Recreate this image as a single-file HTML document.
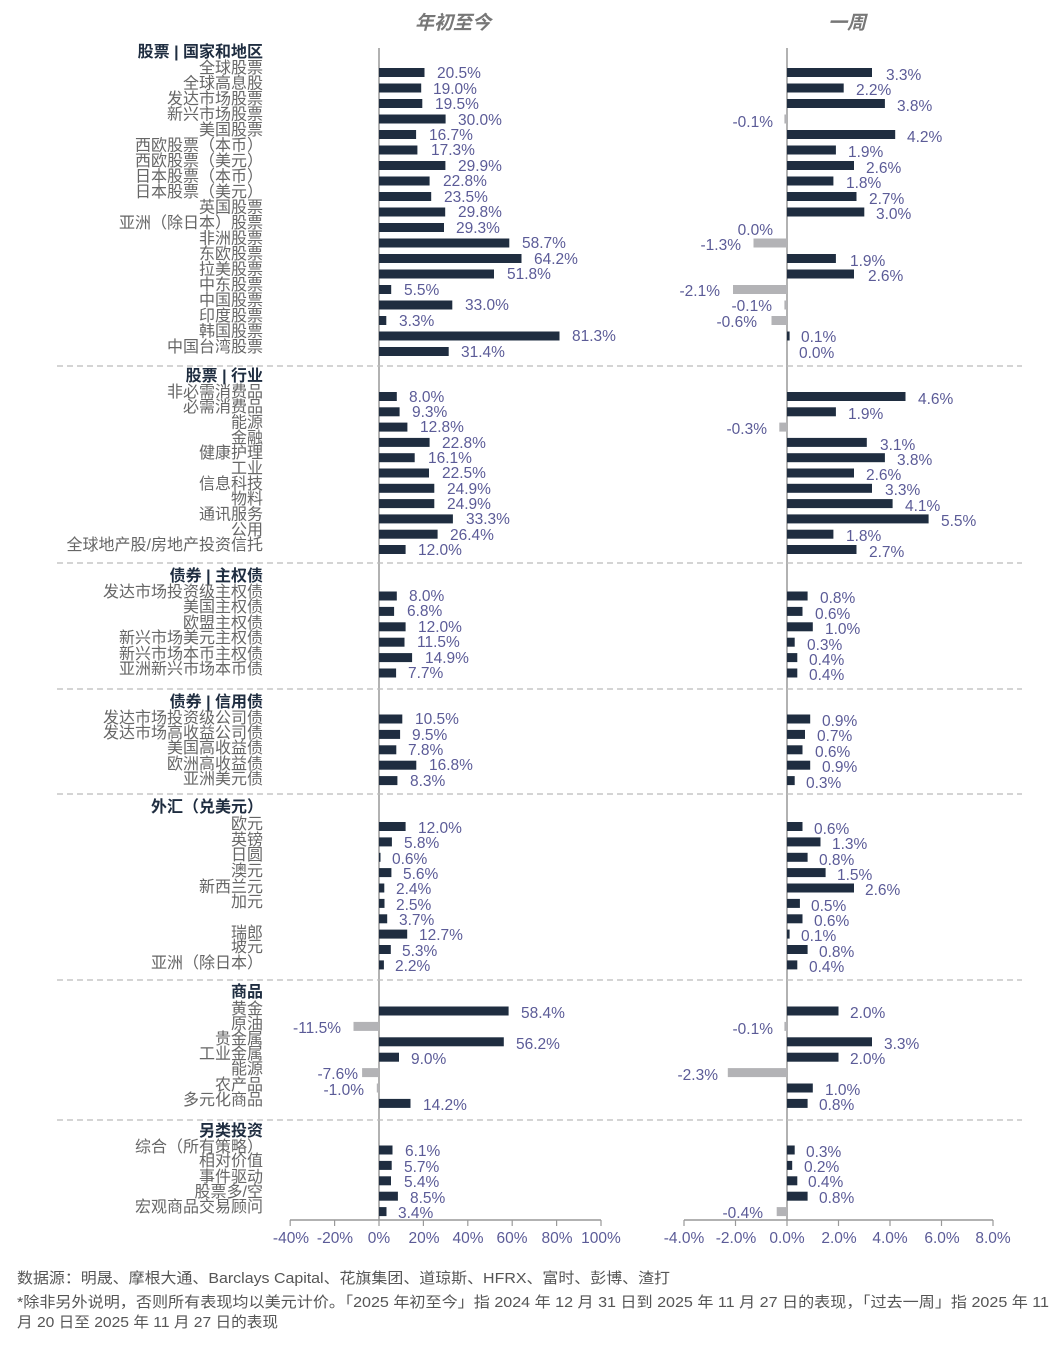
<!DOCTYPE html>
<html><head><meta charset="utf-8"><style>
body{margin:0;background:#fff;}
svg{display:block;font-family:"Liberation Sans","Noto Sans CJK SC",sans-serif;}
.l{font-size:16px;fill:#666;text-anchor:end;}
.h{font-size:16px;fill:#1f2d40;font-weight:bold;text-anchor:end;}
.v{font-size:15.5px;fill:#5b5b97;}
.n{font-size:15.5px;fill:#5b5b97;text-anchor:end;}
.t{font-size:15.5px;fill:#5b5b97;text-anchor:middle;}
.b{fill:#1f2d40;}
.g{fill:#b3b3b6;}
.d{stroke:#bbb;stroke-width:1.3;stroke-dasharray:6,4;}
.f{font-size:15px;fill:#555;}
</style></head><body>
<svg width="1056" height="1346" viewBox="0 0 1056 1346">
<text x="453" y="29" style="font-size:19px;font-style:italic;font-weight:bold;fill:#777;text-anchor:middle">年初至今</text>
<text x="847" y="29" style="font-size:19px;font-style:italic;font-weight:bold;fill:#777;text-anchor:middle">一周</text>

<!-- axes -->
<line x1="379" y1="48" x2="379" y2="1220" stroke="#999" stroke-width="1.5"/>
<line x1="787" y1="48" x2="787" y2="1220" stroke="#999" stroke-width="1.5"/>
<line x1="290" y1="1220" x2="601" y2="1220" stroke="#999" stroke-width="1.5"/>
<line x1="684" y1="1220" x2="993" y2="1220" stroke="#999" stroke-width="1.5"/>
<g stroke="#999" stroke-width="1.2">
<line x1="290.2" y1="1220" x2="290.2" y2="1226"/><line x1="334.6" y1="1220" x2="334.6" y2="1226"/><line x1="379" y1="1220" x2="379" y2="1226"/><line x1="423.4" y1="1220" x2="423.4" y2="1226"/><line x1="467.8" y1="1220" x2="467.8" y2="1226"/><line x1="512.2" y1="1220" x2="512.2" y2="1226"/><line x1="556.6" y1="1220" x2="556.6" y2="1226"/><line x1="601" y1="1220" x2="601" y2="1226"/>
<line x1="684" y1="1220" x2="684" y2="1226"/><line x1="735.5" y1="1220" x2="735.5" y2="1226"/><line x1="787" y1="1220" x2="787" y2="1226"/><line x1="838.5" y1="1220" x2="838.5" y2="1226"/><line x1="890" y1="1220" x2="890" y2="1226"/><line x1="941.5" y1="1220" x2="941.5" y2="1226"/><line x1="993" y1="1220" x2="993" y2="1226"/>
</g>
<text class="t" x="291" y="1243">-40%</text><text class="t" x="335" y="1243">-20%</text><text class="t" x="379" y="1243">0%</text><text class="t" x="424" y="1243">20%</text><text class="t" x="468" y="1243">40%</text><text class="t" x="512" y="1243">60%</text><text class="t" x="557" y="1243">80%</text><text class="t" x="601" y="1243">100%</text>
<text class="t" x="684" y="1243">-4.0%</text><text class="t" x="736" y="1243">-2.0%</text><text class="t" x="787" y="1243">0.0%</text><text class="t" x="839" y="1243">2.0%</text><text class="t" x="890" y="1243">4.0%</text><text class="t" x="942" y="1243">6.0%</text><text class="t" x="993" y="1243">8.0%</text>

<!-- dividers -->
<line class="d" x1="57" y1="366" x2="1022" y2="366"/>
<line class="d" x1="57" y1="563" x2="1022" y2="563"/>
<line class="d" x1="57" y1="689" x2="1022" y2="689"/>
<line class="d" x1="57" y1="794" x2="1022" y2="794"/>
<line class="d" x1="57" y1="980" x2="1022" y2="980"/>
<line class="d" x1="57" y1="1120" x2="1022" y2="1120"/>

<!-- Section 1 -->
<text class="h" x="263" y="57">股票 | 国家和地区</text>
<text class="l" x="263" y="73">全球股票</text><rect class="b" x="379" y="68" width="45.5" height="9"/><text class="v" x="437" y="78">20.5%</text><rect class="b" x="787" y="68" width="85" height="9"/><text class="v" x="886" y="80">3.3%</text>
<text class="l" x="263" y="88.5">全球高息股</text><rect class="b" x="379" y="83.5" width="42.2" height="9"/><text class="v" x="433" y="94">19.0%</text><rect class="b" x="787" y="83.5" width="56.7" height="9"/><text class="v" x="856" y="95">2.2%</text>
<text class="l" x="263" y="104">发达市场股票</text><rect class="b" x="379" y="99" width="43.3" height="9"/><text class="v" x="435" y="109">19.5%</text><rect class="b" x="787" y="99" width="97.9" height="9"/><text class="v" x="897" y="111">3.8%</text>
<text class="l" x="263" y="119.5">新兴市场股票</text><rect class="b" x="379" y="114.5" width="66.6" height="9"/><text class="v" x="458" y="125">30.0%</text><rect class="g" x="784.4" y="114.5" width="2.6" height="9"/><text class="n" x="773" y="127">-0.1%</text>
<text class="l" x="263" y="135">美国股票</text><rect class="b" x="379" y="130" width="37.1" height="9"/><text class="v" x="429" y="140">16.7%</text><rect class="b" x="787" y="130" width="108.2" height="9"/><text class="v" x="907" y="142">4.2%</text>
<text class="l" x="263" y="150.5">西欧股票（本币）</text><rect class="b" x="379" y="145.5" width="38.4" height="9"/><text class="v" x="431" y="155">17.3%</text><rect class="b" x="787" y="145.5" width="48.9" height="9"/><text class="v" x="848" y="157">1.9%</text>
<text class="l" x="263" y="166">西欧股票（美元）</text><rect class="b" x="379" y="161" width="66.4" height="9"/><text class="v" x="458" y="171">29.9%</text><rect class="b" x="787" y="161" width="67" height="9"/><text class="v" x="866" y="173">2.6%</text>
<text class="l" x="263" y="181.5">日本股票（本币）</text><rect class="b" x="379" y="176.5" width="50.6" height="9"/><text class="v" x="443" y="186">22.8%</text><rect class="b" x="787" y="176.5" width="46.4" height="9"/><text class="v" x="846" y="188">1.8%</text>
<text class="l" x="263" y="197">日本股票（美元）</text><rect class="b" x="379" y="192" width="52.2" height="9"/><text class="v" x="444" y="202">23.5%</text><rect class="b" x="787" y="192" width="69.5" height="9"/><text class="v" x="869" y="204">2.7%</text>
<text class="l" x="263" y="212.5">英国股票</text><rect class="b" x="379" y="207.5" width="66.2" height="9"/><text class="v" x="458" y="217">29.8%</text><rect class="b" x="787" y="207.5" width="77.3" height="9"/><text class="v" x="876" y="219">3.0%</text>
<text class="l" x="263" y="228">亚洲（除日本）股票</text><rect class="b" x="379" y="223" width="65" height="9"/><text class="v" x="456" y="233">29.3%</text><text class="n" x="773" y="235">0.0%</text>
<text class="l" x="263" y="243.5">非洲股票</text><rect class="b" x="379" y="238.5" width="130.3" height="9"/><text class="v" x="522" y="248">58.7%</text><rect class="g" x="753.5" y="238.5" width="33.5" height="9"/><text class="n" x="741" y="250">-1.3%</text>
<text class="l" x="263" y="259">东欧股票</text><rect class="b" x="379" y="254" width="142.5" height="9"/><text class="v" x="534" y="264">64.2%</text><rect class="b" x="787" y="254" width="48.9" height="9"/><text class="v" x="850" y="266">1.9%</text>
<text class="l" x="263" y="274.5">拉美股票</text><rect class="b" x="379" y="269.5" width="115" height="9"/><text class="v" x="507" y="279">51.8%</text><rect class="b" x="787" y="269.5" width="67" height="9"/><text class="v" x="868" y="281">2.6%</text>
<text class="l" x="263" y="290">中东股票</text><rect class="b" x="379" y="285" width="12.2" height="9"/><text class="v" x="404" y="295">5.5%</text><rect class="g" x="733" y="285" width="54" height="9"/><text class="n" x="720" y="296">-2.1%</text>
<text class="l" x="263" y="305.5">中国股票</text><rect class="b" x="379" y="300.5" width="73.3" height="9"/><text class="v" x="465" y="310">33.0%</text><rect class="g" x="784.4" y="300.5" width="2.6" height="9"/><text class="n" x="772" y="311">-0.1%</text>
<text class="l" x="263" y="321">印度股票</text><rect class="b" x="379" y="316" width="7.3" height="9"/><text class="v" x="399" y="326">3.3%</text><rect class="g" x="771.5" y="316" width="15.5" height="9"/><text class="n" x="757" y="327">-0.6%</text>
<text class="l" x="263" y="336.5">韩国股票</text><rect class="b" x="379" y="331.5" width="180.5" height="9"/><text class="v" x="572" y="341">81.3%</text><rect class="b" x="787" y="331.5" width="2.6" height="9"/><text class="v" x="801" y="342">0.1%</text>
<text class="l" x="263" y="352">中国台湾股票</text><rect class="b" x="379" y="347" width="69.7" height="9"/><text class="v" x="461" y="357">31.4%</text><text class="v" x="799" y="358">0.0%</text>

<!-- Section 2 -->
<text class="h" x="263" y="381">股票 | 行业</text>
<text class="l" x="263" y="397">非必需消费品</text><rect class="b" x="379" y="392" width="17.8" height="9"/><text class="v" x="409" y="402">8.0%</text><rect class="b" x="787" y="392" width="118.5" height="9"/><text class="v" x="918" y="404">4.6%</text>
<text class="l" x="263" y="412">必需消费品</text><rect class="b" x="379" y="407.3" width="20.6" height="9"/><text class="v" x="412" y="417">9.3%</text><rect class="b" x="787" y="407.3" width="48.9" height="9"/><text class="v" x="848" y="419">1.9%</text>
<text class="l" x="263" y="427.5">能源</text><rect class="b" x="379" y="422.6" width="28.4" height="9"/><text class="v" x="420" y="432">12.8%</text><rect class="g" x="779.3" y="422.6" width="7.7" height="9"/><text class="n" x="767" y="434">-0.3%</text>
<text class="l" x="263" y="443">金融</text><rect class="b" x="379" y="437.9" width="50.6" height="9"/><text class="v" x="442" y="448">22.8%</text><rect class="b" x="787" y="437.9" width="79.8" height="9"/><text class="v" x="880" y="450">3.1%</text>
<text class="l" x="263" y="458">健康护理</text><rect class="b" x="379" y="453.2" width="35.7" height="9"/><text class="v" x="428" y="463">16.1%</text><rect class="b" x="787" y="453.2" width="97.9" height="9"/><text class="v" x="897" y="465">3.8%</text>
<text class="l" x="263" y="473.5">工业</text><rect class="b" x="379" y="468.5" width="50" height="9"/><text class="v" x="442" y="478">22.5%</text><rect class="b" x="787" y="468.5" width="67" height="9"/><text class="v" x="866" y="480">2.6%</text>
<text class="l" x="263" y="489">信息科技</text><rect class="b" x="379" y="483.8" width="55.3" height="9"/><text class="v" x="447" y="494">24.9%</text><rect class="b" x="787" y="483.8" width="85" height="9"/><text class="v" x="885" y="495">3.3%</text>
<text class="l" x="263" y="504">物料</text><rect class="b" x="379" y="499.1" width="55.3" height="9"/><text class="v" x="447" y="509">24.9%</text><rect class="b" x="787" y="499.1" width="105.6" height="9"/><text class="v" x="905" y="511">4.1%</text>
<text class="l" x="263" y="519.5">通讯服务</text><rect class="b" x="379" y="514.4" width="73.9" height="9"/><text class="v" x="466" y="524">33.3%</text><rect class="b" x="787" y="514.4" width="141.6" height="9"/><text class="v" x="941" y="526">5.5%</text>
<text class="l" x="263" y="535">公用</text><rect class="b" x="379" y="529.7" width="58.6" height="9"/><text class="v" x="450" y="540">26.4%</text><rect class="b" x="787" y="529.7" width="46.4" height="9"/><text class="v" x="846" y="541">1.8%</text>
<text class="l" x="263" y="550">全球地产股/房地产投资信托</text><rect class="b" x="379" y="545" width="26.6" height="9"/><text class="v" x="418" y="555">12.0%</text><rect class="b" x="787" y="545" width="69.5" height="9"/><text class="v" x="869" y="557">2.7%</text>

<!-- Section 3 -->
<text class="h" x="263" y="581">债券 | 主权债</text>
<text class="l" x="263" y="597">发达市场投资级主权债</text><rect class="b" x="379" y="591.5" width="17.8" height="9"/><text class="v" x="409" y="601">8.0%</text><rect class="b" x="787" y="591.5" width="20.6" height="9"/><text class="v" x="820" y="603">0.8%</text>
<text class="l" x="263" y="612">美国主权债</text><rect class="b" x="379" y="606.9" width="15.1" height="9"/><text class="v" x="407" y="616">6.8%</text><rect class="b" x="787" y="606.9" width="15.5" height="9"/><text class="v" x="815" y="619">0.6%</text>
<text class="l" x="263" y="628">欧盟主权债</text><rect class="b" x="379" y="622.3" width="26.6" height="9"/><text class="v" x="418" y="632">12.0%</text><rect class="b" x="787" y="622.3" width="25.8" height="9"/><text class="v" x="825" y="634">1.0%</text>
<text class="l" x="263" y="643">新兴市场美元主权债</text><rect class="b" x="379" y="637.7" width="25.5" height="9"/><text class="v" x="417" y="647">11.5%</text><rect class="b" x="787" y="637.7" width="7.7" height="9"/><text class="v" x="807" y="650">0.3%</text>
<text class="l" x="263" y="659">新兴市场本币主权债</text><rect class="b" x="379" y="653.1" width="33.1" height="9"/><text class="v" x="425" y="663">14.9%</text><rect class="b" x="787" y="653.1" width="10.3" height="9"/><text class="v" x="809" y="665">0.4%</text>
<text class="l" x="263" y="674">亚洲新兴市场本币债</text><rect class="b" x="379" y="668.5" width="17.1" height="9"/><text class="v" x="408" y="678">7.7%</text><rect class="b" x="787" y="668.5" width="10.3" height="9"/><text class="v" x="809" y="680">0.4%</text>

<!-- Section 4 -->
<text class="h" x="263" y="707">债券 | 信用债</text>
<text class="l" x="263" y="723">发达市场投资级公司债</text><rect class="b" x="379" y="714.5" width="23.3" height="9"/><text class="v" x="415" y="724">10.5%</text><rect class="b" x="787" y="714.5" width="23.2" height="9"/><text class="v" x="822" y="726">0.9%</text>
<text class="l" x="263" y="738">发达市场高收益公司债</text><rect class="b" x="379" y="729.9" width="21.1" height="9"/><text class="v" x="412" y="740">9.5%</text><rect class="b" x="787" y="729.9" width="18" height="9"/><text class="v" x="817" y="741">0.7%</text>
<text class="l" x="263" y="753">美国高收益债</text><rect class="b" x="379" y="745.3" width="17.3" height="9"/><text class="v" x="408" y="755">7.8%</text><rect class="b" x="787" y="745.3" width="15.5" height="9"/><text class="v" x="815" y="757">0.6%</text>
<text class="l" x="263" y="769">欧洲高收益债</text><rect class="b" x="379" y="760.7" width="37.3" height="9"/><text class="v" x="429" y="770">16.8%</text><rect class="b" x="787" y="760.7" width="23.2" height="9"/><text class="v" x="822" y="772">0.9%</text>
<text class="l" x="263" y="784">亚洲美元债</text><rect class="b" x="379" y="776.1" width="18.4" height="9"/><text class="v" x="410" y="786">8.3%</text><rect class="b" x="787" y="776.1" width="7.7" height="9"/><text class="v" x="806" y="788">0.3%</text>

<!-- Section 5 -->
<text class="h" x="263" y="812">外汇（兑美元）</text>
<text class="l" x="263" y="829">欧元</text><rect class="b" x="379" y="822" width="26.6" height="9"/><text class="v" x="418" y="833">12.0%</text><rect class="b" x="787" y="822" width="15.5" height="9"/><text class="v" x="814" y="834">0.6%</text>
<text class="l" x="263" y="845">英镑</text><rect class="b" x="379" y="837.4" width="12.9" height="9"/><text class="v" x="404" y="848">5.8%</text><rect class="b" x="787" y="837.4" width="33.5" height="9"/><text class="v" x="832" y="849">1.3%</text>
<text class="l" x="263" y="860">日圆</text><rect class="b" x="379" y="852.8" width="1.5" height="9"/><text class="v" x="392" y="864">0.6%</text><rect class="b" x="787" y="852.8" width="20.6" height="9"/><text class="v" x="819" y="865">0.8%</text>
<text class="l" x="263" y="876">澳元</text><rect class="b" x="379" y="868.1" width="12.4" height="9"/><text class="v" x="403" y="879">5.6%</text><rect class="b" x="787" y="868.1" width="38.6" height="9"/><text class="v" x="837" y="880">1.5%</text>
<text class="l" x="263" y="892">新西兰元</text><rect class="b" x="379" y="883.5" width="5.3" height="9"/><text class="v" x="396" y="894">2.4%</text><rect class="b" x="787" y="883.5" width="67" height="9"/><text class="v" x="865" y="895">2.6%</text>
<text class="l" x="263" y="907">加元</text><rect class="b" x="379" y="898.9" width="5.5" height="9"/><text class="v" x="396" y="910">2.5%</text><rect class="b" x="787" y="898.9" width="12.9" height="9"/><text class="v" x="811" y="911">0.5%</text>
<rect class="b" x="379" y="914.3" width="8.2" height="9"/><text class="v" x="399" y="925">3.7%</text><rect class="b" x="787" y="914.3" width="15.5" height="9"/><text class="v" x="814" y="926">0.6%</text>
<text class="l" x="263" y="938">瑞郎</text><rect class="b" x="379" y="929.6" width="28.2" height="9"/><text class="v" x="419" y="940">12.7%</text><rect class="b" x="787" y="929.6" width="2.6" height="9"/><text class="v" x="801" y="941">0.1%</text>
<text class="l" x="263" y="952">坡元</text><rect class="b" x="379" y="945" width="11.8" height="9"/><text class="v" x="402" y="956">5.3%</text><rect class="b" x="787" y="945" width="20.6" height="9"/><text class="v" x="819" y="957">0.8%</text>
<text class="l" x="263" y="968">亚洲（除日本）</text><rect class="b" x="379" y="960.4" width="4.9" height="9"/><text class="v" x="395" y="971">2.2%</text><rect class="b" x="787" y="960.4" width="10.3" height="9"/><text class="v" x="809" y="972">0.4%</text>

<!-- Section 6 -->
<text class="h" x="263" y="997">商品</text>
<text class="l" x="263" y="1014">黄金</text><rect class="b" x="379" y="1006.5" width="129.6" height="9"/><text class="v" x="521" y="1018">58.4%</text><rect class="b" x="787" y="1006.5" width="51.5" height="9"/><text class="v" x="850" y="1018">2.0%</text>
<text class="l" x="263" y="1029">原油</text><rect class="g" x="353.5" y="1021.9" width="25.5" height="9"/><text class="n" x="341" y="1033">-11.5%</text><rect class="g" x="784.4" y="1021.9" width="2.6" height="9"/><text class="n" x="773" y="1034">-0.1%</text>
<text class="l" x="263" y="1044">贵金属</text><rect class="b" x="379" y="1037.3" width="124.8" height="9"/><text class="v" x="516" y="1049">56.2%</text><rect class="b" x="787" y="1037.3" width="85" height="9"/><text class="v" x="884" y="1049">3.3%</text>
<text class="l" x="263" y="1059">工业金属</text><rect class="b" x="379" y="1052.7" width="20" height="9"/><text class="v" x="411" y="1064">9.0%</text><rect class="b" x="787" y="1052.7" width="51.5" height="9"/><text class="v" x="850" y="1064">2.0%</text>
<text class="l" x="263" y="1074">能源</text><rect class="g" x="362.1" y="1068.1" width="16.9" height="9"/><text class="n" x="358" y="1079">-7.6%</text><rect class="g" x="727.8" y="1068.1" width="59.2" height="9"/><text class="n" x="718" y="1080">-2.3%</text>
<text class="l" x="263" y="1090">农产品</text><rect class="g" x="376.8" y="1083.5" width="2.2" height="9"/><text class="n" x="364" y="1095">-1.0%</text><rect class="b" x="787" y="1083.5" width="25.8" height="9"/><text class="v" x="825" y="1095">1.0%</text>
<text class="l" x="263" y="1105">多元化商品</text><rect class="b" x="379" y="1098.9" width="31.5" height="9"/><text class="v" x="423" y="1110">14.2%</text><rect class="b" x="787" y="1098.9" width="20.6" height="9"/><text class="v" x="819" y="1110">0.8%</text>

<!-- Section 7 -->
<text class="h" x="263" y="1136">另类投资</text>
<text class="l" x="263" y="1152">综合（所有策略）</text><rect class="b" x="379" y="1145.5" width="13.5" height="9"/><text class="v" x="405" y="1156">6.1%</text><rect class="b" x="787" y="1145.5" width="7.7" height="9"/><text class="v" x="806" y="1157">0.3%</text>
<text class="l" x="263" y="1166">相对价值</text><rect class="b" x="379" y="1160.9" width="12.7" height="9"/><text class="v" x="404" y="1172">5.7%</text><rect class="b" x="787" y="1160.9" width="5.2" height="9"/><text class="v" x="804" y="1172">0.2%</text>
<text class="l" x="263" y="1182">事件驱动</text><rect class="b" x="379" y="1176.3" width="12" height="9"/><text class="v" x="404" y="1187">5.4%</text><rect class="b" x="787" y="1176.3" width="10.3" height="9"/><text class="v" x="808" y="1187">0.4%</text>
<text class="l" x="263" y="1197">股票多/空</text><rect class="b" x="379" y="1191.7" width="18.9" height="9"/><text class="v" x="410" y="1203">8.5%</text><rect class="b" x="787" y="1191.7" width="20.6" height="9"/><text class="v" x="819" y="1203">0.8%</text>
<text class="l" x="263" y="1212">宏观商品交易顾问</text><rect class="b" x="379" y="1207.1" width="7.5" height="9"/><text class="v" x="398" y="1218">3.4%</text><rect class="g" x="776.7" y="1207.1" width="10.3" height="9"/><text class="n" x="763" y="1218">-0.4%</text>

<!-- footer -->
<text class="f" x="17" y="1283" textLength="653" lengthAdjust="spacingAndGlyphs">数据源：明晟、摩根大通、Barclays Capital、花旗集团、道琼斯、HFRX、富时、彭博、渣打</text>
<text class="f" x="17" y="1307" textLength="1032" lengthAdjust="spacingAndGlyphs">*除非另外说明，否则所有表现均以美元计价。「2025 年初至今」指 2024 年 12 月 31 日到 2025 年 11 月 27 日的表现，「过去一周」指 2025 年 11</text>
<text class="f" x="17" y="1327" textLength="261" lengthAdjust="spacingAndGlyphs">月 20 日至 2025 年 11 月 27 日的表现</text>
</svg>
</body></html>
